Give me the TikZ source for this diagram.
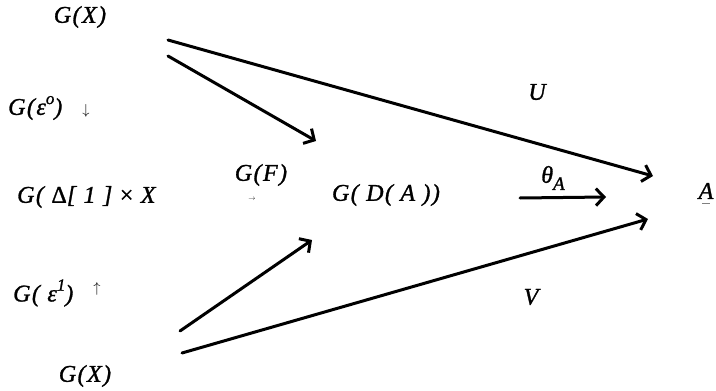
\documentclass[tikz,border=0pt]{standalone}
\usepackage{fontspec}
\setmainfont{Liberation Serif}
\newfontfamily\escaneo[LetterSpace=6,FakeBold=1.2]{Liberation Serif}
\usetikzlibrary{arrows.meta,positioning}

\begin{document}
\begin{tikzpicture}[x=1pt,y=-1pt,
        etiqueta/.style={inner sep=0pt,font=\escaneo\fontsize{24}{28}\selectfont\itshape},
        marquita/.style={inner sep=0pt,font=\fontsize{14}{16}\selectfont},
        flecha/.style={-{Straight Barb[length=8pt,width=17pt,line width=3pt]},line width=3pt,line cap=round}]
        \useasboundingbox (0,0) rectangle (716,391);
        % objetos
        \node[etiqueta] (gxa) at (80,17) {G(X)};
        \node[etiqueta,anchor=west] (geo) at (8,108) {G(ε\raisebox{.45em}{\fontsize{17}{18}\selectfont o})};
        \node[marquita] (abajo) at (86,111) {$\downarrow$};
        \node[etiqueta,anchor=west] (gdelta) at (17,197) {G( {\upshape Δ}[ 1 ] {\upshape ×} X};
        \node[etiqueta,anchor=west] (geuno) at (13,293) {G( ε\raisebox{.45em}{\fontsize{17}{18}\selectfont 1})};
        \node[marquita] (arriba) at (97,289) {$\uparrow$};
        \node[etiqueta] (gxb) at (85,376) {G(X)};
        \node[etiqueta] (gf) at (261,175) {G(F)};
        \node[marquita] (punta) at (252,199) {\scalebox{.5}{$\rightarrow$}};
        \node[etiqueta] (gda) at (386,195) {G( D( A ))};
        \node[etiqueta] (a) at (706,191) {A};
        \draw[line width=.8pt,gray] ([xshift=-4pt,yshift=-4pt]a.south) -- ++(8,0);
        % etiquetas de flechas
        \node[etiqueta] (u) at (537,92) {U};
        \node[etiqueta] (v) at (531,297) {V};
        \node[etiqueta] (theta) at (553,178) {θ\raisebox{-.3em}{\fontsize{19}{20}\selectfont A}};
        % extremos
        \coordinate (ua) at (168,40);   \coordinate (ub) at (653,176);
        \coordinate (fa) at (168,56);   \coordinate (fb) at (316,141);
        \coordinate (ga) at (180,331);  \coordinate (gb) at (312,240);
        \coordinate (va) at (182,353);  \coordinate (vb) at (648,219);
        \coordinate (ta) at (520,198);  \coordinate (tb) at (606,197);
        \draw[flecha] (ua) -- (ub);\draw[flecha] (fa) -- (fb);\draw[flecha] (ga) -- (gb);
        \draw[flecha] (va) -- (vb);\draw[flecha] (ta) -- (tb);
      \end{tikzpicture}
\end{document}
